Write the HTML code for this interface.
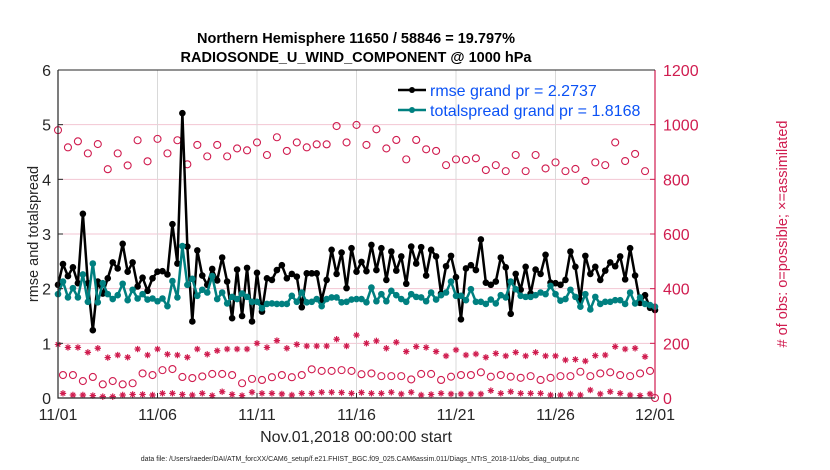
<!DOCTYPE html>
<html><head><meta charset="utf-8">
<style>
html,body{margin:0;padding:0;background:#fff;}
svg{display:block;font-family:"Liberation Sans",Arial,sans-serif;}
</style></head>
<body>
<svg id="chart" width="830" height="470" viewBox="0 0 830 470">
<rect x="0" y="0" width="830" height="470" fill="#fff"/>
<text x="356" y="43" text-anchor="middle" font-size="14.5" font-weight="bold">Northern Hemisphere 11650 / 58846 = 19.797%</text>
<text x="356" y="62" text-anchor="middle" font-size="14.5" font-weight="bold">RADIOSONDE_U_WIND_COMPONENT @ 1000 hPa</text>
<g id="grid"></g>
<g id="marks"></g>
<g id="axes"></g>
<text transform="translate(38,234) rotate(-90)" text-anchor="middle" font-size="14.5" fill="#262626">rmse and totalspread</text>
<text transform="translate(787,234) rotate(-90)" text-anchor="middle" font-size="14.5" fill="#d01c4f"># of obs: o=possible; ×=assimilated</text>
<text x="356" y="442" text-anchor="middle" font-size="16" fill="#262626">Nov.01,2018 00:00:00 start</text>
<text x="360" y="461" text-anchor="middle" font-size="7" fill="#262626">data file: /Users/raeder/DAI/ATM_forcXX/CAM6_setup/f.e21.FHIST_BGC.f09_025.CAM6assim.011/Diags_NTrS_2018-11/obs_diag_output.nc</text>
<g>
<line x1="398" y1="90" x2="426" y2="90" stroke="#000" stroke-width="2.5"/>
<circle cx="412" cy="90" r="3" fill="#000"/>
<text x="430" y="96" font-size="16" fill="#0b52f5">rmse grand pr = 2.2737</text>
<line x1="398" y1="110" x2="426" y2="110" stroke="#008080" stroke-width="2.5"/>
<circle cx="412" cy="110" r="3" fill="#008080"/>
<text x="430" y="116" font-size="16" fill="#0b52f5">totalspread grand pr = 1.8168</text>
</g>
</svg>
<script>
const xTickLabels = ["11/01","11/06","11/11","11/16","11/21","11/26","12/01"];
const yLeftTicks = [0,1,2,3,4,5,6];
const yRightTicks = [0,200,400,600,800,1000,1200];
const rmse = [2.07,2.45,2.23,2.39,2.10,3.37,2.10,1.24,2.13,1.91,2.19,2.48,2.37,2.82,2.31,2.48,2.04,2.20,1.96,2.19,
2.31,2.32,2.26,3.18,2.46,5.21,2.77,1.40,2.70,2.24,2.07,2.36,2.15,2.57,2.13,1.46,2.35,1.50,2.38,1.40,
2.29,1.58,2.19,2.16,2.34,2.43,2.19,2.27,2.22,1.66,2.28,2.28,2.28,1.79,2.16,2.71,2.27,2.66,2.01,2.74,
2.31,2.49,2.32,2.80,2.34,2.74,2.16,2.68,2.33,2.59,2.09,2.77,2.46,2.76,2.24,2.71,2.59,1.91,2.41,2.60,
2.21,1.44,2.37,2.43,2.34,2.90,2.11,2.07,2.13,2.57,2.39,1.54,2.27,1.98,2.40,1.91,2.35,2.27,2.62,2.11,
2.10,2.07,2.16,2.68,2.40,1.79,2.60,2.27,2.40,2.16,2.33,2.48,2.41,2.59,2.17,2.74,2.24,1.74,1.88,1.65,1.61];
const spread = [1.90,2.13,1.84,2.01,1.84,2.26,1.76,2.46,1.75,2.10,1.90,1.81,1.88,2.09,1.79,1.98,1.82,1.90,1.80,1.82,
1.77,1.82,1.68,2.14,1.84,2.78,2.07,2.18,1.87,1.98,1.93,2.23,1.81,1.93,1.73,1.85,1.81,1.91,1.85,1.76,
1.76,1.64,1.72,1.73,1.72,1.72,1.72,1.87,1.76,1.93,1.75,1.76,1.81,1.68,1.81,1.84,1.84,1.75,1.76,1.80,
1.81,1.81,1.75,2.02,1.77,1.90,1.77,1.96,1.88,1.81,1.76,1.90,1.85,1.84,1.77,1.93,1.80,1.88,1.93,2.13,
1.87,1.87,1.79,1.99,1.76,1.76,1.72,1.80,1.73,1.88,1.84,2.13,1.99,1.87,1.85,1.85,1.88,1.93,1.90,2.05,
1.90,1.78,1.81,1.98,1.85,1.67,1.90,1.62,1.85,1.72,1.76,1.76,1.79,1.79,1.72,1.93,1.73,1.84,1.72,1.70,1.67];
// obs counts at 00Z/12Z (even steps) and 06Z/18Z (odd steps)
const possibleMain = [980,917,939,895,929,837,895,851,943,866,948,895,943,855,926,884,926,884,913,906,
935,889,954,904,935,917,928,928,995,935,999,926,983,913,944,873,944,910,904,852,
873,871,877,834,852,830,889,830,889,840,862,830,838,794,862,852,935,867,893,830,0];
const possibleMinor = [84,84,62,77,50,62,50,54,90,84,102,106,77,73,79,88,88,84,54,70,
66,76,84,76,84,105,99,99,102,99,87,90,80,80,80,68,88,88,66,78,
84,84,94,78,84,78,74,80,66,74,80,80,96,80,90,94,84,80,90,99];
const assimMain = [196,185,185,167,182,148,157,149,179,157,179,160,157,149,179,160,173,179,179,179,
200,185,210,182,196,190,190,190,215,190,230,200,209,182,204,170,188,185,170,154,
176,157,161,149,163,154,167,154,167,154,154,139,141,135,155,157,188,179,182,151];
const assimMinor = [17,11,11,9,5,5,11,13,13,11,17,17,13,11,17,9,23,13,9,21,
17,17,15,11,17,17,21,21,20,17,20,17,17,21,15,21,11,13,17,15,
15,15,15,27,17,23,17,17,17,11,11,15,11,29,15,23,17,11,9,15];

const NS="http://www.w3.org/2000/svg";
const L=58,R=655,T=70,B=398;
const nSteps=120;
const xS=i=>L+(R-L)*i/nSteps;
const yL=v=>B-(B-T)*v/6;
const yR=v=>B-(B-T)*v/1200;
function mk(tag,attrs,parent){const e=document.createElementNS(NS,tag);for(const k in attrs)e.setAttribute(k,attrs[k]);parent.appendChild(e);return e;}
const grid=document.getElementById('grid'),marks=document.getElementById('marks'),axes=document.getElementById('axes');

yRightTicks.forEach((t,i)=>{
  const y=yR(t);
  const g=mk('line',{x1:L,x2:R,y1:y,y2:y,stroke:'#f3c6d3','stroke-width':1},grid);
  
  
  const tk=mk('line',{x1:R-5,x2:R,y1:y,y2:y,stroke:'#d01c4f','stroke-width':1},axes);
  
  
  const tx=mk('text',{x:R+8,y:y+6,'font-size':16,fill:'#d01c4f'},axes);
  tx.textContent=t;
  
  
});
yLeftTicks.forEach(t=>{
  const y=yL(t);
  const tk=mk('line',{x1:L,x2:L+5,y1:y,y2:y,stroke:'#262626','stroke-width':1},axes);
  
  
  const tx=mk('text',{x:L-7,y:y+6,'font-size':16,fill:'#262626','text-anchor':'end'},axes);
  tx.textContent=t;
  
  
});
xTickLabels.forEach((lab,i)=>{
  const x=xS(i*20);
  if(i>0&&i<xTickLabels.length-1){
    const g=mk('line',{x1:x,x2:x,y1:T,y2:B,stroke:'#d9d9d9','stroke-width':1},grid);
    
    
  }
  const tk=mk('line',{x1:x,x2:x,y1:B,y2:B-5,stroke:'#262626'},axes);
  
  
  const tx=mk('text',{x:x,y:B+22,'font-size':16,fill:'#262626','text-anchor':'middle'},axes);
  tx.textContent=lab;
  
  
});
const fr=mk('path',{d:`M${L},${T}V${B}H${R}`,fill:'none',stroke:'#262626','stroke-width':1.2},axes);


const fr2=mk('line',{x1:R,x2:R,y1:T,y2:B,stroke:'#d01c4f','stroke-width':1.2},axes);


const fr3=mk('line',{x1:L,x2:R,y1:T,y2:T,stroke:'#262626','stroke-width':1},axes);



function star(x,y,name){
  const s=3.2;
  const p=mk('path',{d:`M${x-s},${y}H${x+s}M${x},${y-s}V${y+s}M${x-s*0.7},${y-s*0.7}L${x+s*0.7},${y+s*0.7}M${x-s*0.7},${y+s*0.7}L${x+s*0.7},${y-s*0.7}`,stroke:'#d01c4f','stroke-width':1.2,fill:'none'},marks);
  
  
}
function ring(x,y,name){
  const c=mk('circle',{cx:x,cy:y,r:3.5,fill:'none',stroke:'#d01c4f','stroke-width':1.1},marks);
  
  
}
possibleMain.forEach((v,i)=>ring(xS(i*2),yR(v),'possible-obs-point'));
possibleMinor.forEach((v,i)=>ring(xS(i*2+1),yR(v),'possible-obs-point'));
assimMain.forEach((v,i)=>star(xS(i*2),yR(v),'assimilated-obs-point'));
assimMinor.forEach((v,i)=>star(xS(i*2+1),yR(v),'assimilated-obs-point'));

function series(arr,color,name,r){
  const pl=mk('polyline',{points:arr.map((v,i)=>xS(i)+','+yL(v)).join(' '),fill:'none',stroke:color,'stroke-width':2.5,'stroke-linejoin':'round'},marks);
  
  
  arr.forEach((v,i)=>{
    const c=mk('circle',{cx:xS(i),cy:yL(v),r:r,fill:color},marks);
    
    
  });
}
series(rmse,'#000','rmse',3.3);
series(spread,'#008080','totalspread',3.3);
</script>
</body></html>
